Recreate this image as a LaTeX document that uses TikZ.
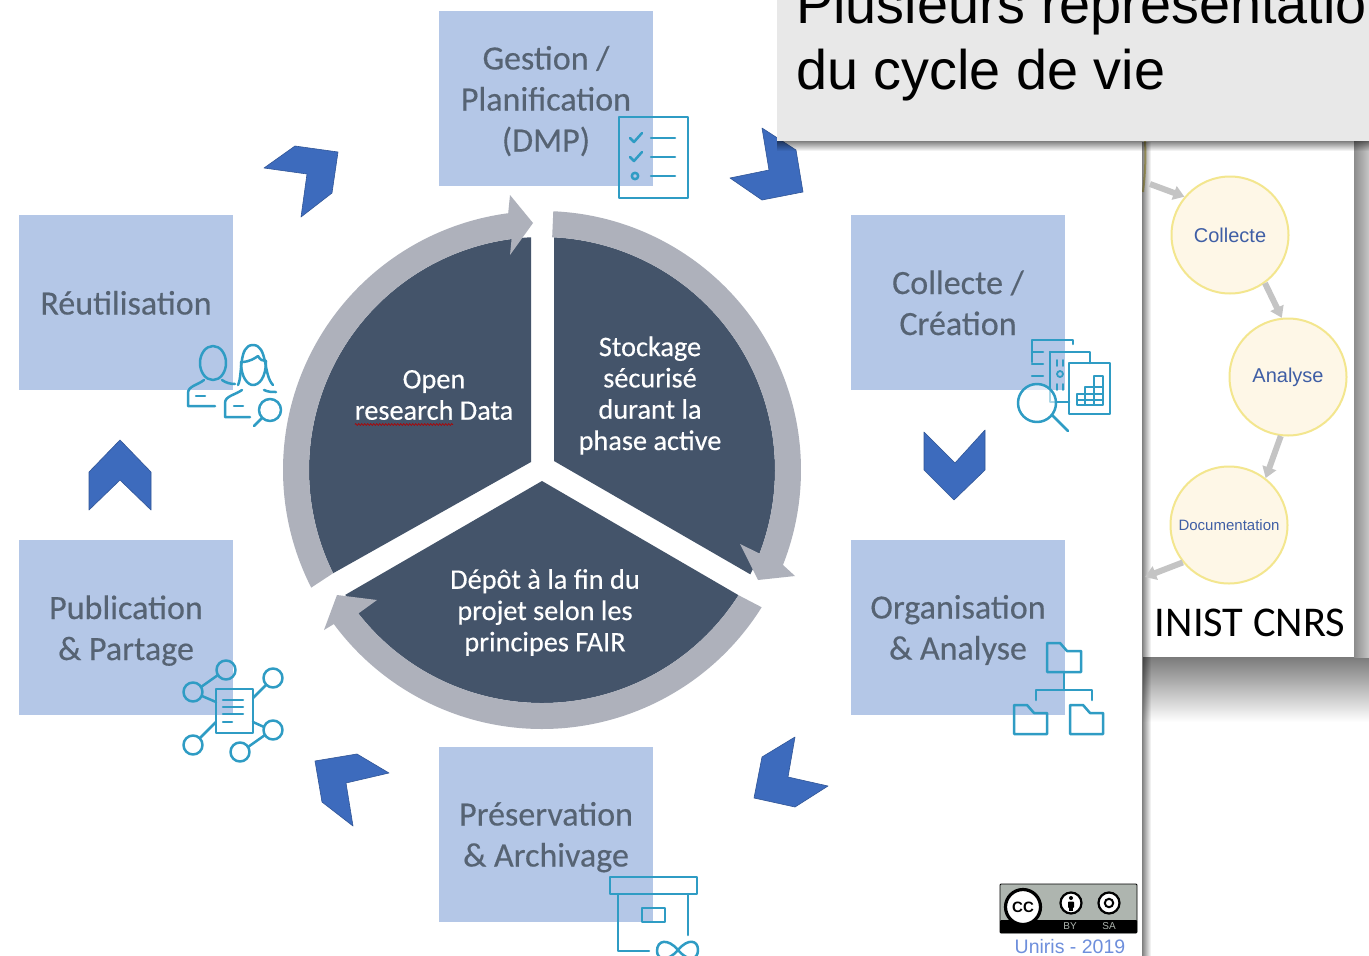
\documentclass[tikz,border=0pt]{standalone}
\usepackage{fontspec}
\setmainfont{Carlito}
\newfontfamily\arialf{Liberation Sans}
\newfontfamily\heavyf[FakeBold=0.35]{Carlito}
\usetikzlibrary{calc,fadings,arrows.meta,decorations.pathmorphing}
\newcommand{\firstln}{\rule{0pt}{33pt}}
\newcommand{\lastln}{\rule[-9pt]{0pt}{9pt}}
\definecolor{boxblue}{HTML}{B4C7E7}
\definecolor{boxtext}{HTML}{566373}
\definecolor{darkseg}{HTML}{44546A}
\definecolor{ringgrey}{HTML}{AEB1BB}
\definecolor{chevblue}{HTML}{3D6BBD}
\definecolor{iconblue}{HTML}{2F9CC4}
\definecolor{panelgrey}{HTML}{E8E8E8}
\definecolor{circfill}{HTML}{FEF7E7}
\definecolor{circline}{HTML}{F3E68E}
\definecolor{circtext}{HTML}{3F5EA5}
\definecolor{arrowgrey}{HTML}{C4C4C4}
\definecolor{badgegrey}{HTML}{AEB5AF}
\definecolor{uniris}{HTML}{6E8FDC}
\tikzset{
  stagebox/.style={fill=boxblue,minimum width=214pt,minimum height=175pt,inner sep=0pt,align=center,text=boxtext,font=\heavyf\fontsize{34}{41}\selectfont},
  wheeltext/.style={inner sep=0pt,align=center,text=white,font=\heavyf\fontsize{28.3}{31.3}\selectfont},
  chevshape/.style={fill=chevblue,draw=chevblue!80!black,line width=.6pt,line join=round},
  seg/.style={fill=darkseg},
  ring/.style={fill=ringgrey},
  icon/.style={draw=iconblue,line width=2.5pt,line join=round,line cap=round},
  cyc/.style={circle,draw=circline,fill=circfill,line width=2pt,minimum size=117pt,inner sep=0pt,text=circtext},
  cycarrow/.style={draw=arrowgrey,line width=6pt,-{Triangle[length=11pt,width=14pt]}},
  titletext/.style={anchor=base west,inner sep=0pt,font=\arialf\fontsize{55.8}{66}\selectfont}
}
\begin{document}
\begin{tikzpicture}[x=1pt,y=-1pt]
\useasboundingbox (0,0) rectangle (1369,956);
\clip (0,0) rectangle (1369,956);
\fill[white] (0,0) rectangle (1369,956);
% back card and its shadows
\shade[top color=black!52,bottom color=white] (1143,657) rectangle (1369,722);
\shade[left color=black!45,right color=black!22] (1354,141) rectangle (1369,657);
\fill[white] (1143,141) rectangle (1354,657);
\draw[circline!90!black,line width=2pt] (1145,141) .. controls (1146,160) and (1145,175) .. (1143,192);
\fill[black,opacity=.5,path fading=east] (1142,141) rectangle (1151,956);
% cycle on the card
\node[cyc,font=\arialf\fontsize{20}{24}\selectfont] (c1) at (1230,235) {Collecte};
\node[cyc,font=\arialf\fontsize{20}{24}\selectfont] (c2) at (1288,377) {\raisebox{-1.5pt}{Analyse}};
\node[cyc,font=\arialf\fontsize{15}{20}\selectfont] (c3) at (1229,525) {Documentation};
\coordinate (in1) at (1150,184);
\coordinate (out3) at (1145,577);
\draw[cycarrow] (in1) -- (c1.140);
\draw[cycarrow] (c1.-54) -- (c2.96);
\draw[cycarrow] (c2.-97) -- (c3.52);
\draw[cycarrow] (c3.219) -- (out3);
\node[font=\fontsize{42.4}{50}\selectfont,inner sep=0pt] (inist) at (1250,623) {INIST CNRS};
% stage boxes
\node[stagebox] (gestion) at (546,98.5) {\firstln Gestion /\\Planification\\(DMP)\lastln};
\node[stagebox] (collecte) at (958,302.5) {\firstln Collecte /\\Création\lastln};
\node[stagebox] (organisation) at (958,627) {\firstln Organisation\\\& Analyse\lastln};
\node[stagebox] (preservation) at (546,834) {\firstln Préservation\\\& Archivage\lastln};
\node[stagebox] (publication) at (126,627.5) {\firstln Publication\\\& Partage\lastln};
\node[stagebox] (reutilisation) at (126,302.5) {\firstln Réutilisation\lastln};
% chevrons
\fill[chevshape] (762,128) -- (796,150) -- (803,192) -- (762,200) -- (730,178) -- (769,170) -- cycle;
\fill[chevshape] (985,430) -- (985,470) -- (954,500) -- (924,470) -- (924,432) -- (955,463) -- cycle;
\fill[chevshape] (795,737) -- (788,777) -- (828,786) -- (795,807) -- (754,798) -- (762,757) -- cycle;
\fill[chevshape] (315,761) -- (357,754) -- (389,773) -- (346,783) -- (353,826) -- (322,802) -- cycle;
\fill[chevshape] (120,440) -- (151,472) -- (151,510) -- (120,480) -- (89,510) -- (89,472) -- cycle;
\fill[chevshape] (295,146) -- (338,152) -- (332,193) -- (301,217) -- (307,174) -- (264,168) -- cycle;
% wheel
\coordinate (C) at (542,470);
\fill[seg] (554,461) -- ($(C)+(87:233pt)$) arc[start angle=87,end angle=-26.6,radius=233pt] -- cycle;
\fill[seg] (531,462) -- ($(C)+(92.7:233pt)$) arc[start angle=92.7,end angle=206.3,radius=233pt] -- cycle;
\fill[seg] (542,481) -- ($(C)+(212.4:233pt)$) arc[start angle=212.4,end angle=327.5,radius=233pt] -- cycle;
\fill[ring] ($(C)+(87.5:259pt)$) arc[start angle=87.5,end angle=-21.5,radius=259pt] -- (795,576) -- (758,580) -- (740,544) -- ($(C)+(-21:233pt)$) arc[start angle=-21,end angle=87.5,radius=233pt] -- cycle;
\fill[ring] ($(C)+(207:259pt)$) arc[start angle=207,end angle=97.5,radius=259pt] -- (510,195) -- (533,223) -- (510,255) -- ($(C)+(97.5:233pt)$) arc[start angle=97.5,end angle=206.3,radius=233pt] -- cycle;
\fill[ring] ($(C)+(-32:259pt)$) arc[start angle=-32,end angle=-143.5,radius=259pt] -- (324,630) -- (337,595) -- (377,600) -- ($(C)+(-142:233pt)$) arc[start angle=-142,end angle=-32.5,radius=233pt] -- cycle;
\node[wheeltext] (open) at (434,395) {Open\\research Data};
\node[wheeltext] (stock) at (650,395.5) {Stockage\\sécurisé\\durant la\\phase active};
\node[wheeltext] (depot) at (545,612.5) {Dépôt à la fin du\\projet selon les\\principes FAIR};
\draw[red!70!black,line width=.7pt,decorate,decoration={zigzag,amplitude=.8pt,segment length=3pt}] (355,424.5) -- (453,424.5);
% checklist icon
\draw[icon] (619,117) rectangle (688,198);
\draw[icon] (630,138) -- (634,142) -- (642,133);
\draw[icon] (630,157) -- (634,161) -- (642,152);
\draw[icon] (635,176) circle (3.2pt);
\draw[icon] (651,138) -- (675,138) (651,157) -- (675,157) (651,176) -- (675,176);
% documents and magnifier icon
\draw[icon] (1032,362) -- (1032,340) -- (1073,340) -- (1073,344);
\draw[icon] (1050,352) -- (1090,352) -- (1090,363);
\draw[icon] (1050,352) -- (1050,382);
\draw[icon] (1050,382) -- (1050,402) -- (1069,402);
\draw[icon] (1069,363) rectangle (1110,414);
\draw[icon] (1032,352) -- (1043,352) (1032,364) -- (1043,364) (1032,376) -- (1043,376);
\draw[icon,line width=1.8pt] (1057,360) -- (1057,366) (1063,360) -- (1063,366) (1060,374) circle (3pt) (1057,384) -- (1057,390) (1063,384) -- (1063,390);
\draw[icon,line width=1.8pt] (1077,405) -- (1103,405) -- (1103,376) -- (1094,376) -- (1094,387) -- (1085,387) -- (1085,394) -- (1077,394) -- cycle (1077,400) -- (1103,400) (1085,394) -- (1103,394) (1094,387) -- (1103,387) (1094,387) -- (1094,405) (1085,394) -- (1085,405);
\draw[icon,fill=white,fill opacity=.6] (1037,403) circle (19pt);
\draw[icon] (1052,415) -- (1068,431);
% folders icon
\draw[icon] (1047,672) -- (1047,643) -- (1060,643) -- (1067,651) -- (1081,651) -- (1081,672) -- cycle;
\draw[icon] (1064,672) -- (1064,690) (1036,700) -- (1036,690) -- (1092,690) -- (1092,700);
\draw[icon] (1014,734) -- (1014,705) -- (1027,705) -- (1034,713) -- (1047,713) -- (1047,734) -- cycle;
\draw[icon] (1070,734) -- (1070,705) -- (1083,705) -- (1090,713) -- (1103,713) -- (1103,734) -- cycle;
% people icon
\draw[icon] (213,363) ellipse [x radius=13pt,y radius=17pt];
\draw[icon] (188,406) -- (215,406) (188,406) -- (188,393) .. controls (188,386) and (198,385) .. (204,380) (222,380) .. controls (226,383) and (231,384) .. (235,384);
\draw[icon] (196,396) -- (205,396);
\draw[icon] (238,385) .. controls (243,375) and (238,345) .. (253,345) .. controls (268,345) and (263,375) .. (273,385);
\draw[icon] (241,362) .. controls (250,362) and (255,358) .. (258,356) .. controls (260,360) and (263,361) .. (266,361);
\draw[icon] (241,362) .. controls (241,378) and (248,385) .. (253,385) .. controls (259,385) and (266,378) .. (266,361);
\draw[icon] (250,417) -- (225,417) -- (225,403) .. controls (225,396) and (235,395) .. (242,390) (264,390) .. controls (268,392) and (272,392) .. (276,392);
\draw[icon] (234,406) -- (243,406);
\draw[icon] (270,410) circle (11pt);
\draw[icon] (262,418) -- (254,426);
% network icon
\draw[icon] (216,689) rectangle (253,733);
\draw[icon] (223,700) -- (243,700) (223,707) -- (243,707) (223,714) -- (243,714) (223,722) -- (232,722);
\draw[icon] (226,670) circle (9.5pt);
\draw[icon] (193,692) circle (9.5pt);
\draw[icon] (273,678) circle (9.5pt);
\draw[icon] (193,745) circle (9.5pt);
\draw[icon] (273,730) circle (9.5pt);
\draw[icon] (240,752) circle (9.5pt);
\draw[icon] (201,687) -- (218,675) (202,696) -- (216,702) (266,685) -- (253,698) (200,738) -- (216,722) (264,727) -- (253,722) (265,735) -- (248,747);
% archive icon
\draw[icon] (610,877) rectangle (697,894);
\draw[icon] (618,894) -- (618,951) -- (649,951) (688,894) -- (688,935);
\draw[icon] (642,908) rectangle (665,922);
\draw[icon] (657,951) .. controls (657,940) and (668,938) .. (678,950) .. controls (688,962) and (698,960) .. (698,950) .. controls (698,940) and (688,938) .. (678,950) .. controls (668,962) and (657,960) .. (657,951);
% licence badge
\fill[badgegrey,rounded corners=1pt] (1000,884) rectangle (1137,933);
\fill[black,rounded corners=1pt] (1000,920) rectangle (1137,933);
\draw[black,line width=.8pt,rounded corners=1pt] (1000,884) rectangle (1137,933);
\node[circle,draw=black,fill=white,line width=3.2pt,minimum size=35pt,inner sep=0pt,font=\arialf\bfseries\fontsize{15}{15}\selectfont] (cc) at (1023,907) {CC};
\node[circle,draw=black,fill=white,line width=2.2pt,minimum size=21pt,inner sep=0pt] (by) at (1071,903) {};
\fill[black] (1071,898) circle (2pt);
\fill[black,rounded corners=.8pt] (1068,901.5) rectangle (1074,908);
\fill[black] (1069.3,907) rectangle (1072.7,911);
\node[circle,draw=black,fill=white,line width=2.2pt,minimum size=21pt,inner sep=0pt] (sa) at (1109,903) {};
\draw[black,line width=2pt] (1109,903) circle (4.2pt);
\node[text=badgegrey,inner sep=0pt,font=\arialf\fontsize{10}{10}\selectfont] (bytxt) at (1070,926.5) {BY};
\node[text=badgegrey,inner sep=0pt,font=\arialf\fontsize{10}{10}\selectfont] (satxt) at (1109,926.5) {SA};
\node[text=uniris,inner sep=0pt,font=\arialf\fontsize{19.5}{24}\selectfont] (uni) at (1070,946.5) {Uniris - 2019};
% front title panel
\fill[panelgrey] (777,-5) rectangle (1375,141);
\fill[black,opacity=.5,path fading=south] (777,141) rectangle (1369,151);
\node[titletext] (t1) at (796,23) {Plusieurs représentatio};
\node[titletext] (t2) at (796,89) {du cycle de vie};
\end{tikzpicture}
\end{document}
